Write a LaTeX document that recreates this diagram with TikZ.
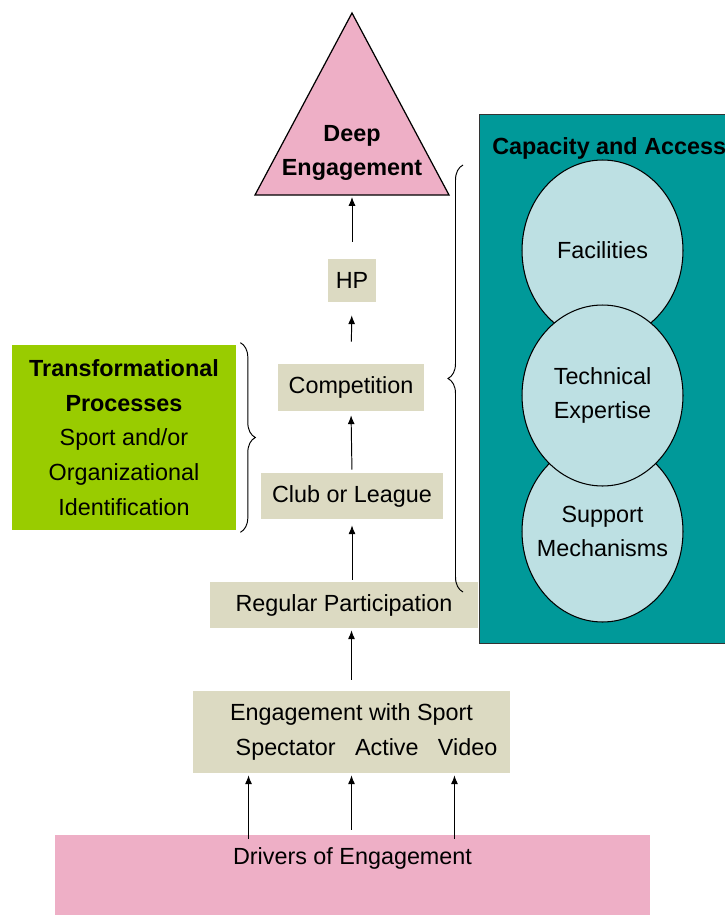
\documentclass[tikz,border=0pt]{standalone}
\usepackage{fontspec}
\setmainfont{Liberation Sans}
\usepackage{tikz}
\usetikzlibrary{positioning}
\usetikzlibrary{shapes.geometric}
\usetikzlibrary{arrows.meta}
\usetikzlibrary{decorations.pathreplacing}
\definecolor{pinkfill}{HTML}{EEAFC6}
\definecolor{beigefill}{HTML}{DCDAC2}
\definecolor{greenfill}{HTML}{99CC00}
\definecolor{tealfill}{HTML}{009999}
\definecolor{circfill}{HTML}{BDE0E3}

\begin{document}
\begin{tikzpicture}[x=0.02cm, y=-0.02cm,
    every node/.style={font=\fontsize{13.3pt}{19.8pt}\selectfont, inner sep=0pt},
    stagebox/.style={fill=beigefill, align=center},
    arr/.style={line width=0.55pt, -{Latex[length=5pt,width=4pt]}},
    bracket/.style={line width=0.55pt, decorate, decoration={brace, amplitude=0.3cm}},
    resource/.style={ellipse, draw, line width=0.6pt, fill=circfill, align=center, inner xsep=-0.35cm,
                     minimum width=3.22cm, minimum height=3.62cm}]
            \useasboundingbox (0,0) rectangle (724,916);

            % Triangle at the top
            \draw[fill=pinkfill, line width=0.7pt] (352,13) -- (449,195) -- (255,195) -- cycle;
            \coordinate (tribase) at (352,195);
            \node[align=center, font=\fontsize{13.3pt}{19.8pt}\selectfont\bfseries] (deep) at (352,153) {Deep\\Engagement};

            % Stages
            \node[stagebox, minimum width=0.98cm, minimum height=0.86cm] (hp) at (352,280.5) {HP};
            \node[stagebox, minimum width=2.92cm, minimum height=0.94cm] (comp) at (351,387.5) {Competition};
            \node[stagebox, minimum width=3.64cm, minimum height=0.92cm] (club) at (352,496) {Club or League};
            \node[stagebox, minimum width=5.36cm, minimum height=0.92cm] (rp) at (344,605) {Regular Participation};
            \node[stagebox, minimum width=6.36cm, minimum height=1.64cm] (eng) at (351.5,732)
                {Engagement with Sport\\\hspace*{0.6cm}Spectator\hspace{11pt}Active\hspace{11pt}Video};
            \node[fill=pinkfill, minimum width=11.9cm, minimum height=1.6cm,
                  label={[yshift=0.34cm]center:Drivers of Engagement}] (drivers) at (352.5,875) {};

            % Arrows
            \draw[arr, shorten <=0.34cm, shorten >=0.04cm] (hp.north) -- (tribase);
            \draw[arr, shorten <=0.44cm, shorten >=0.26cm] (comp.north) -- (hp.south);
            \draw[arr, shorten <=0.06cm, shorten >=0.08cm] (club.north) -- (comp.south);
            \draw[arr, shorten <=0.04cm, shorten >=0.12cm] (club.south |- rp.north) -- (club.south);
            \draw[arr, shorten <=0.22cm, shorten >=0.04cm] (eng.north) -- (eng.north |- rp.south);
            \foreach \dx/\gap in {-2.08/-0.08, -0.02/0.1, 2.04/-0.08}
                \draw[arr, shorten <=\gap cm, shorten >=0.04cm] ([xshift=\dx cm]drivers.north) -- ([xshift=\dx cm]drivers.north |- eng.south);

            % Transformational processes
            \node[fill=greenfill, align=center, minimum width=4.48cm, minimum height=3.7cm] (trans) at (124,437.5)
                {\textbf{Transformational}\\\textbf{Processes}\\Sport and/or\\Organizational\\Identification};
            \draw[bracket] ([xshift=0.08cm, yshift=0.04cm]trans.north east) -- ([xshift=0.08cm, yshift=-0.04cm]trans.south east);

            % Capacity and access
            \node[draw=black!80, line width=0.6pt, fill=tealfill, minimum width=5.1cm, minimum height=10.58cm,
                  anchor=north west] (capacity) at (479,114) {};
            \node[anchor=west, font=\fontsize{13.3pt}{19.8pt}\selectfont\bfseries] (captitle) at (492,148) {Capacity and Access};
            \node[resource] (facilities) at (602.5,250.5) {Facilities};
            \node[resource] (support) at (602.5,531.5) {Support\\Mechanisms};
            \node[resource] (technical) at (602.5,395.5) {Technical\\Expertise};
            \draw[bracket] (463,592) -- (463,165);
        \end{tikzpicture}
\end{document}
